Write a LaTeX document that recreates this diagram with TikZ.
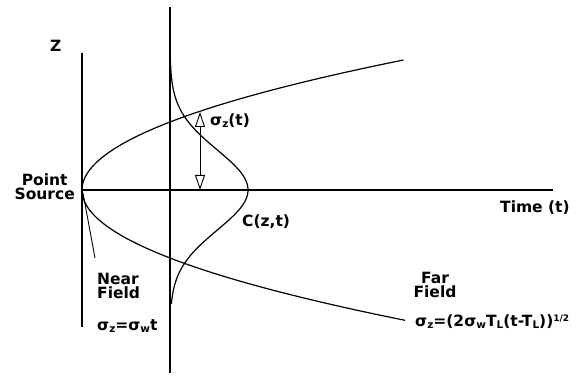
\documentclass[tikz,border=0pt]{standalone}
\usepackage{fontspec}
\setmainfont{DejaVu Sans}
\usetikzlibrary{arrows.meta,calc,positioning}
\newcommand{\lo}[1]{\raisebox{-1.5pt}{\fontsize{10.5}{10}\selectfont #1}}
\newcommand{\hi}[1]{\raisebox{5pt}{\fontsize{9}{9}\selectfont #1}}

\begin{document}
\begin{tikzpicture}[x=1pt,y=1pt,
  lbl/.style={font=\fontsize{15.5}{14}\selectfont\bfseries, inner sep=0pt},
  axis/.style={line width=2.2pt},
  curve/.style={line width=1.2pt},
  fine/.style={line width=0.9pt}]
\useasboundingbox (0,0) rectangle (583,377);
% axes
\coordinate (src) at (82,187);
\coordinate (ztop) at (82,324);
\coordinate (zbot) at (82,50);
\coordinate (tend) at (553,187);
\coordinate (ctop) at (170,370);
\coordinate (cbot) at (170,4);
\draw[axis] (ztop) -- (zbot);
\draw[axis] (src) -- (tend);
\draw[axis] (ctop) -- (cbot);
% plume spread and profile
\draw[curve] plot[domain=0:130,samples=90] ({82+(\x/7.25)*(\x/7.25)},{187+\x});
\draw[curve] plot[domain=0:-130.3,samples=90] ({82+(\x/7.25)*(\x/7.25)},{187+\x});
\draw[curve] plot[domain=-114:128,samples=120] ({170+78*exp(-0.5*(\x/40)*(\x/40))},{187+\x});
\coordinate (nfa) at (83,184);
\coordinate (nfb) at (95,119);
\draw[fine] (nfa) -- (nfb);
\coordinate (sbot) at (200,187);
\coordinate (stop) at (200,265);
\draw[fine, {Triangle[open,length=15pt,width=10pt]}-{Triangle[open,length=15pt,width=10pt]}] (sbot) -- (stop);
% labels
\node[lbl, anchor=base west] (zlab) at (50,325) {Z};
\node[lbl, anchor=north east, align=center] (psrc) at (75,203) {Point\\Source};
\node[lbl, anchor=base west] (time) at (500,164) {Time (t)};
\node[lbl, anchor=base west] (sig) at (210,251) {σ\lo{z}(t)};
\node[lbl, anchor=base west] (conc) at (242,150) {C(z,t)};
\node[lbl, anchor=north west, align=left] (near) at (97,104) {Near\\Field};
\node[lbl, anchor=base west] (nearf) at (97,46) {σ\lo{z}=σ\lo{w}t};
\node[lbl, anchor=north, align=center] (far) at (435,105) {Far\\Field};
\node[lbl, anchor=base west] (farf) at (415,50) {σ\lo{z}=(2σ\lo{w}T\lo{L}(t-T\lo{L}))\hi{1/2}};
\end{tikzpicture}
\end{document}
